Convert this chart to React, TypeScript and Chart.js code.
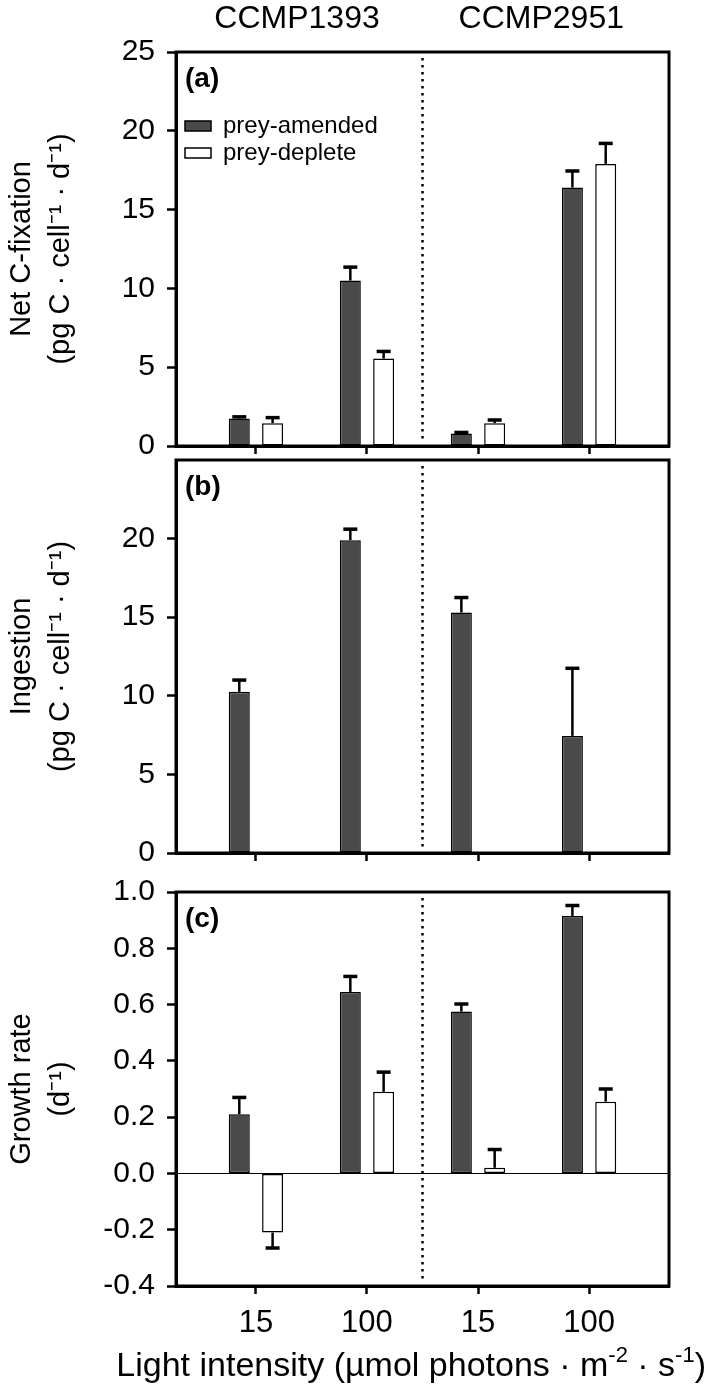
import React, { useEffect, useRef } from 'react';
import { Chart, registerables } from 'chart.js';

Chart.register(...registerables);

// ---------- data ----------
const lightPositions = [1, 2, 3, 4];
const lightLabels = ['15', '100', '15', '100'];
const strainNames = ['CCMP1393', 'CCMP2951'];
const seriesNames = ['prey-amended', 'prey-deplete'];

const fixAmended = [1.75, 10.5, 0.8, 16.4];
const fixAmendedErr = [0.1, 0.85, 0.06, 1.05];
const fixDeplete = [1.45, 5.55, 1.45, 17.9];
const fixDepleteErr = [0.35, 0.45, 0.2, 1.3];

const ingAmended = [10.25, 19.9, 15.3, 7.45];
const ingAmendedErr = [0.75, 0.7, 0.95, 4.3];
const ingDeplete: (number | null)[] = [null, null, null, null];
const ingDepleteErr = [0, 0, 0, 0];

const growAmended = [0.21, 0.645, 0.575, 0.915];
const growAmendedErr = [0.06, 0.055, 0.027, 0.037];
const growDeplete = [-0.21, 0.29, 0.02, 0.255];
const growDepleteErr = [0.055, 0.07, 0.065, 0.045];

const fixTicks = [0, 5, 10, 15, 20, 25];
const ingTicks = [0, 5, 10, 15, 20];
const growTicks = [-0.4, -0.2, 0, 0.2, 0.4, 0.6, 0.8, 1.0];

// x-axis title, split into normal / superscript runs
const xTitleParts: { text: string; sup: boolean }[] = [
  { text: 'Light intensity (µmol photons · m', sup: false },
  { text: '-2', sup: true },
  { text: ' · s', sup: false },
  { text: '-1', sup: true },
  { text: ')', sup: false },
];

// ---------- layout ----------
const W = 709;
const H = 1387;
const LEFT = 176;
const RIGHT = 669;
const FONT = '"Liberation Sans", Arial, Helvetica, sans-serif';
const DIVIDER_X = 2.5;
const STRAIN_X = [1.37, 3.57];
const DARK = '#4a4a4a';

type Panel = {
  key: string;
  tag: string;
  top: number;
  bottom: number;
  yMin: number;
  yMax: number;
  yTicks: number[];
  decimals: number;
  yTitle: string[];
  amended: (number | null)[];
  amendedErr: number[];
  deplete: (number | null)[];
  depleteErr: number[];
  legend: boolean;
  xLabels: boolean;
  strains: boolean;
  zeroLine: boolean;
};

const panels: Panel[] = [
  {
    key: 'a', tag: '(a)', top: 52, bottom: 446, yMin: 0, yMax: 25, yTicks: fixTicks, decimals: 0,
    yTitle: ['Net C-fixation', '(pg C · cell⁻¹ · d⁻¹)'],
    amended: fixAmended, amendedErr: fixAmendedErr, deplete: fixDeplete, depleteErr: fixDepleteErr,
    legend: true, xLabels: false, strains: true, zeroLine: false,
  },
  {
    key: 'b', tag: '(b)', top: 460, bottom: 853, yMin: 0, yMax: 25, yTicks: ingTicks, decimals: 0,
    yTitle: ['Ingestion', '(pg C · cell⁻¹ · d⁻¹)'],
    amended: ingAmended, amendedErr: ingAmendedErr, deplete: ingDeplete, depleteErr: ingDepleteErr,
    legend: false, xLabels: false, strains: false, zeroLine: false,
  },
  {
    key: 'c', tag: '(c)', top: 892, bottom: 1286, yMin: -0.4, yMax: 1.0, yTicks: growTicks, decimals: 1,
    yTitle: ['Growth rate', '(d⁻¹)'],
    amended: growAmended, amendedErr: growAmendedErr, deplete: growDeplete, depleteErr: growDepleteErr,
    legend: false, xLabels: true, strains: false, zeroLine: true,
  },
];

function makePlugin(p: Panel) {
  const values = [p.amended, p.deplete];
  const errs = [p.amendedErr, p.depleteErr];
  return {
    id: 'decor' + p.key,
    afterLayout(chart: any) {
      const lg = chart.legend;
      const a = chart.chartArea;
      if (p.legend && lg) {
        lg.left = a.left + 6;
        lg.top = a.top + 59;
        lg.bottom = a.bottom;
      }
    },
    beforeDatasetsDraw(chart: any) {
      const { ctx, chartArea: a, scales } = chart;
      const x = scales.x.getPixelForValue(DIVIDER_X);
      ctx.save();
      ctx.strokeStyle = '#000';
      ctx.lineWidth = 2.5;
      ctx.setLineDash([2.5, 4.5]);
      ctx.beginPath();
      ctx.moveTo(x, a.top + 6);
      ctx.lineTo(x, a.bottom - 4);
      ctx.stroke();
      ctx.restore();
    },
    afterDatasetsDraw(chart: any) {
      const { ctx, scales } = chart;
      const y = scales.y;
      values.forEach((vals, di) => {
        const meta = chart.getDatasetMeta(di);
        meta.data.forEach((el: any, i: number) => {
          const v = vals[i];
          if (v == null) return;
          const e = errs[di][i];
          if (!e) return;
          const tip = y.getPixelForValue(v < 0 ? v - e : v + e);
          ctx.save();
          ctx.strokeStyle = '#000';
          ctx.lineWidth = 2.5;
          ctx.beginPath();
          ctx.moveTo(el.x, el.y);
          ctx.lineTo(el.x, tip);
          ctx.stroke();
          ctx.lineWidth = 3.5;
          ctx.beginPath();
          ctx.moveTo(el.x - 7, tip);
          ctx.lineTo(el.x + 7, tip);
          ctx.stroke();
          ctx.restore();
        });
      });
    },
    afterDraw(chart: any) {
      const { ctx, chartArea: a, scales } = chart;
      ctx.save();
      ctx.strokeStyle = '#000';
      ctx.lineWidth = 3;
      ctx.strokeRect(a.left, a.top, a.right - a.left, a.bottom - a.top);
      ctx.fillStyle = '#000';
      ctx.font = `bold 28px ${FONT}`;
      ctx.textAlign = 'left';
      ctx.textBaseline = 'middle';
      ctx.fillText(p.tag, a.left + 9, a.top + 27);
      if (p.strains) {
        ctx.font = `32px ${FONT}`;
        ctx.textAlign = 'center';
        strainNames.forEach((s, i) => {
          ctx.fillText(s, scales.x.getPixelForValue(STRAIN_X[i]), 19);
        });
      }
      if (p.xLabels) {
        // axis title with true superscripts
        const mainFont = `34px ${FONT}`;
        const supFont = `22px ${FONT}`;
        ctx.textAlign = 'left';
        ctx.textBaseline = 'alphabetic';
        let total = 0;
        const widths = xTitleParts.map((part) => {
          ctx.font = part.sup ? supFont : mainFont;
          const w = ctx.measureText(part.text).width;
          total += w;
          return w;
        });
        const cx = (a.left + a.right) / 2 - 11;
        let x = Math.min(cx - total / 2, W - 3 - total);
        const baseline = H - 11;
        xTitleParts.forEach((part, i) => {
          ctx.font = part.sup ? supFont : mainFont;
          ctx.fillText(part.text, x, part.sup ? baseline - 14 : baseline);
          x += widths[i];
        });
      }
      ctx.restore();
    },
  };
}

function makeConfig(p: Panel): any {
  const xAxisH = p.xLabels ? H - p.bottom : 12;
  return {
    type: 'bar',
    data: {
      datasets: [
        {
          label: seriesNames[0],
          data: lightPositions.map((x, i) => ({ x, y: p.amended[i] })),
          backgroundColor: DARK,
          borderColor: '#000',
          borderWidth: 1.5,
          borderSkipped: false,
        },
        {
          label: seriesNames[1],
          data: lightPositions.map((x, i) => ({ x, y: p.deplete[i] })),
          backgroundColor: '#ffffff',
          borderColor: '#000',
          borderWidth: 1.5,
          borderSkipped: false,
        },
      ],
    },
    options: {
      responsive: false,
      animation: false,
      devicePixelRatio: 1,
      events: [],
      categoryPercentage: 0.6,
      barPercentage: 0.63,
      layout: {
        padding: { left: 0, right: W - RIGHT, top: p.top, bottom: H - p.bottom - xAxisH },
      },
      plugins: {
        tooltip: { enabled: false },
        title: { display: false },
        legend: p.legend
          ? {
              display: true,
              position: 'chartArea',
              align: 'start',
              labels: { boxWidth: 26, boxHeight: 10, padding: 3, color: '#000', font: { size: 24, family: FONT } },
            }
          : { display: false },
      },
      scales: {
        x: {
          type: 'linear',
          min: 0.28,
          max: 4.72,
          offset: false,
          afterBuildTicks: (s: any) => {
            s.ticks = lightPositions.map((v) => ({ value: v }));
          },
          afterFit: (s: any) => {
            s.height = xAxisH;
          },
          grid: {
            display: true, drawOnChartArea: false, drawTicks: true, offset: false,
            tickLength: 8, tickWidth: 2.5, tickColor: '#000',
          },
          border: { display: true, color: '#000', width: 3 },
          ticks: {
            display: p.xLabels,
            padding: 11,
            autoSkip: false,
            maxRotation: 0,
            color: '#000',
            font: { size: 31, family: FONT },
            callback: (v: number) => {
              const k = lightPositions.indexOf(v);
              return k >= 0 ? lightLabels[k] : '';
            },
          },
          title: { display: false },
        },
        y: {
          type: 'linear',
          min: p.yMin,
          max: p.yMax,
          afterBuildTicks: (s: any) => {
            s.ticks = p.yTicks.map((v) => ({ value: v }));
          },
          afterFit: (s: any) => {
            s.width = LEFT;
          },
          grid: {
            display: true,
            drawOnChartArea: p.zeroLine,
            color: (c: any) => (c.tick && Math.abs(c.tick.value) < 1e-9 ? '#000' : 'rgba(0,0,0,0)'),
            lineWidth: 1,
            tickLength: 9,
            tickWidth: 2.5,
            tickColor: '#000',
          },
          border: { display: true, color: '#000', width: 3 },
          ticks: {
            padding: 12,
            color: '#000',
            font: { size: 30, family: FONT },
            callback: (v: number) => Number(v).toFixed(p.decimals),
          },
          title: {
            display: true,
            text: p.yTitle,
            color: '#000',
            font: { size: 29, family: FONT, lineHeight: 1.35 },
            padding: { top: 2, bottom: 0 },
          },
        },
      },
    },
    plugins: [makePlugin(p)],
  };
}

function PanelCanvas({ p }: { p: Panel }) {
  const ref = useRef<HTMLCanvasElement | null>(null);
  useEffect(() => {
    if (!ref.current) return;
    const chart = new Chart(ref.current, makeConfig(p));
    return () => chart.destroy();
  }, [p]);
  return (
    <canvas
      ref={ref}
      width={W}
      height={H}
      style={{ position: 'absolute', left: 0, top: 0, width: W, height: H }}
    />
  );
}

export default function App() {
  Chart.defaults.font.family = FONT;
  Chart.defaults.color = '#000';
  return (
    <div style={{ position: 'absolute', left: 0, top: 0, width: W, height: H, background: '#fff', overflow: 'hidden' }}>
      {panels.map((p) => (
        <PanelCanvas key={p.key} p={p} />
      ))}
    </div>
  );
}
